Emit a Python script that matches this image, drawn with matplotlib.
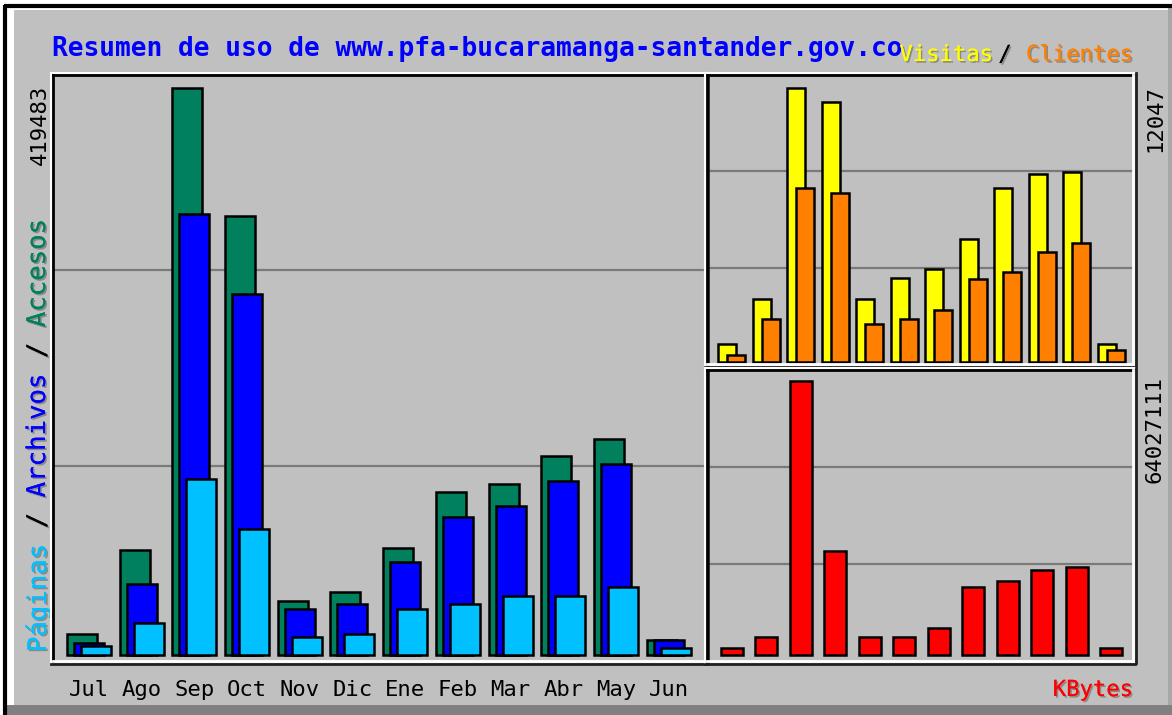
import matplotlib
matplotlib.use("Agg")
import numpy as np
import matplotlib.pyplot as plt
import matplotlib.patheffects as pe

months = ["Jul", "Ago", "Sep", "Oct", "Nov", "Dic", "Ene", "Feb", "Mar", "Abr", "May", "Jun"]
accesos = [15500, 77700, 419483, 324800, 40000, 46600, 79200, 120600, 126500, 147200, 159800, 11100]
archivos = [9200, 52200, 326600, 267100, 34000, 37700, 68800, 102100, 110200, 128700, 141300, 11100]
paginas = [7000, 23700, 130400, 93200, 13300, 15500, 34000, 37700, 43700, 43700, 50300, 5200]
visitas = [767, 2750, 12047, 11457, 2750, 3700, 4085, 5407, 7641, 8258, 8372, 767]
clientes = [295, 1882, 7667, 7420, 1648, 1882, 2278, 3631, 3966, 4847, 5217, 516]
kbytes = [1634000, 4272000, 64027111, 24345000, 4272000, 4272000, 6232000,
          15943000, 17273000, 19840000, 20471000, 1634000]

BG = "#C0C0C0"
W, H = 1172, 715
MONO = "DejaVu Sans Mono"

fig = plt.figure(figsize=(W / 100, H / 100), dpi=100, facecolor=BG)


def px_axes(x0, y0, x1, y1, **kw):
    return fig.add_axes([x0 / W, 1 - y1 / H, (x1 - x0) / W, (y1 - y0) / H], **kw)


# canvas in pixel coordinates for frame, texts
bg = px_axes(0, 0, W, H)
bg.set_xlim(0, W)
bg.set_ylim(H, 0)
bg.axis("off")
bg.fill_between([0, W], 0, H, color="white", lw=0)
bg.fill_between([14, 1168], 10, 705, color=BG, lw=0)
bg.fill_between([5, W], 705, H, color="#808080", lw=0)
bg.fill_between([1168, W], 6, 705, color="#a8a8a8", lw=0)
bg.plot([4, W], [6, 6], color="black", lw=3, solid_capstyle="butt")
bg.plot([5, 5], [5, H], color="black", lw=3, solid_capstyle="butt")

shadow = [pe.withSimplePatchShadow(offset=(1.2, -1.2), shadow_rgbFace="#8a8a8a", alpha=1), pe.Normal()]

bg.text(52, 49, "Resumen de uso de www.pfa-bucaramanga-santander.gov.co", color="#0000FF",
        fontsize=18.9, fontweight="bold", family=MONO, ha="left", va="center")
bg.text(993, 55, "Visitas", color="#FFFF00", fontsize=16, family=MONO, ha="right", va="center",
        path_effects=shadow)
bg.text(1005, 55, "/", color="black", fontsize=16, family=MONO, ha="center", va="center",
        path_effects=shadow)
bg.text(1133, 55, "Clientes", color="#FF8000", fontsize=16, family=MONO, ha="right", va="center",
        path_effects=shadow)
bg.text(1133, 690, "KBytes", color="#FF0000", fontsize=16, family=MONO, ha="right", va="center",
        path_effects=shadow)

# vertical legend on the left, one monospace line split by colour
cw = 15.47
for txt, col, pos in [("Páginas", "#00C0FF", 0), ("/", "black", 8), ("Archivos", "#0000FF", 10),
                      ("/", "black", 19), ("Accesos", "#00805C", 21)]:
    bg.text(38, 652 - pos * cw, txt, color=col, fontsize=18.5, family=MONO, rotation=90,
            rotation_mode="anchor", ha="left", va="center", path_effects=shadow)
bg.text(40, 85, str(max(accesos)), color="black", fontsize=16, family=MONO, rotation=90,
        rotation_mode="anchor", ha="right", va="center")
bg.text(1155, 85, str(max(visitas)), color="black", fontsize=16, family=MONO, rotation=90,
        rotation_mode="anchor", ha="right", va="center")
bg.text(1155, 376, str(max(kbytes)), color="black", fontsize=16, family=MONO, rotation=90,
        rotation_mode="anchor", ha="right", va="center")


def style(ax):
    ax.set_facecolor(BG)
    for s in ax.spines.values():
        s.set_visible(False)
    ax.tick_params(length=0, labelleft=False, labelbottom=False)
    for k in (1, 2):
        ax.plot([0, 1], [k / 3, k / 3], transform=ax.transAxes, color="#7a7a7a", lw=1.6, zorder=0.5)


x = np.arange(len(months))
bar_kw = dict(edgecolor="black", linewidth=1.8, zorder=2)

# main panel: accesos / archivos / paginas
ax = px_axes(53, 75, 705, 661)
style(ax)
ax.set_xlim(-0.683, 11.69)
ax.set_ylim(-4439, 429100)
ax.bar(x - 0.133, accesos, width=0.57, color="#00805C", **bar_kw)
ax.bar(x, archivos, width=0.57, color="#0000FF", **bar_kw)
ax.bar(x + 0.133, paginas, width=0.57, color="#00C0FF", **bar_kw)
ax.set_xticks(x, months)
ax.tick_params(labelbottom=True, pad=13.5)
for lab in ax.get_xticklabels():
    lab.set_fontfamily(MONO)
    lab.set_fontsize(16)

# top right: visitas / clientes
ax2 = px_axes(707, 75, 1133, 364)
style(ax2)
ax2.set_xlim(-0.719, 11.63)
ax2.set_ylim(-101, 12632)
ax2.bar(x - 0.13, visitas, width=0.53, color="#FFFF00", **bar_kw)
ax2.bar(x + 0.13, clientes, width=0.53, color="#FF8000", **bar_kw)

# bottom right: kbytes
ax3 = px_axes(707, 370, 1133, 661)
style(ax3)
ax3.set_xlim(-0.719, 11.63)
ax3.set_ylim(-1.4e6, 66.52e6)
ax3.bar(x, kbytes, width=0.64, color="#FF0000", **bar_kw)

# sunken panel frames
ov = px_axes(0, 0, W, H, zorder=10)
ov.set_xlim(0, W)
ov.set_ylim(H, 0)
ov.axis("off")
ov.patch.set_alpha(0)
for (x0, y0, x1, y1) in [(53, 75, 705, 661), (707, 75, 1133, 364), (707, 370, 1133, 661)]:
    ov.plot([x0 - 2, x1 + 2], [y0 - 2, y0 - 2], color="white", lw=1.5)
    ov.plot([x0 - 2, x0 - 2], [y0 - 2, y1 + 2], color="white", lw=1.5)
    ov.plot([x0, x1], [y0, y0], color="black", lw=2)
    ov.plot([x0, x0], [y0, y1], color="black", lw=2)
    ov.plot([x0, x1], [y1, y1], color="white", lw=2)
    ov.plot([x1, x1], [y0, y1], color="white", lw=2)
    ov.plot([x0 - 2, x1 + 2], [y1 + 2.5, y1 + 2.5], color="#202020", lw=2)
    ov.plot([x1 + 2.5, x1 + 2.5], [y0 - 2, y1 + 2], color="#202020", lw=2)

fig.savefig("out.png", dpi=100, facecolor=BG)
